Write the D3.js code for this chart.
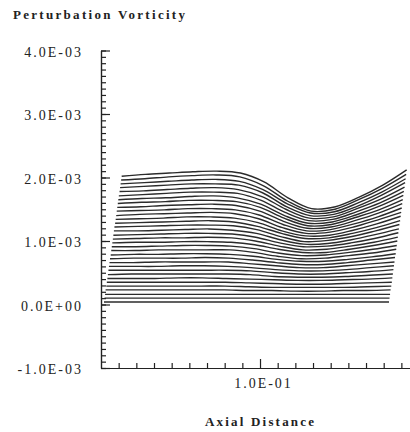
<!DOCTYPE html>
<html>
<head>
<meta charset="utf-8">
<script src="https://cdn.jsdelivr.net/npm/d3@7"></script>
<style>
  body { margin: 0; background: #fff; }
  text { font-family: "Liberation Serif", "DejaVu Serif", serif; fill: #222; }
</style>
</head>
<body>
<script>
// Axial positions of the samples along the first (lowest) curve
const axial = [0.0117, 0.0251, 0.0386, 0.0520, 0.0655, 0.0789, 0.0923,
               0.1058, 0.1192, 0.1327, 0.1461, 0.1595, 0.1730];

// Shift along the axial direction of each successive curve (waterfall stacking)
const stackOffset = [0, 0.0003, 0.0006, 0.0009, 0.0013, 0.0016, 0.0019, 0.0022,
  0.0025, 0.0028, 0.0031, 0.0034, 0.0038, 0.0041, 0.0044, 0.0047, 0.0050,
  0.0053, 0.0056, 0.0059, 0.0063, 0.0066, 0.0069, 0.0072, 0.0075, 0.0078,
  0.0081, 0.0084, 0.0088, 0.0091, 0.0094, 0.0097, 0.0100];

// Perturbation vorticity of each curve, in units of 1E-03 (bottom curve first)
const vorticity = [
  [0.04,0.04,0.04,0.04,0.04,0.04,0.04,0.04,0.04,0.04,0.04,0.04,0.04],
  [0.10,0.10,0.10,0.10,0.10,0.10,0.10,0.10,0.10,0.10,0.10,0.10,0.10],
  [0.16,0.16,0.16,0.16,0.16,0.16,0.16,0.16,0.16,0.16,0.16,0.16,0.16],
  [0.23,0.23,0.23,0.23,0.23,0.23,0.22,0.22,0.21,0.21,0.22,0.22,0.23],
  [0.29,0.29,0.29,0.29,0.29,0.29,0.28,0.27,0.27,0.27,0.27,0.28,0.29],
  [0.35,0.35,0.35,0.35,0.35,0.35,0.34,0.33,0.32,0.32,0.33,0.34,0.35],
  [0.41,0.41,0.41,0.42,0.42,0.41,0.40,0.39,0.38,0.38,0.39,0.40,0.42],
  [0.47,0.48,0.48,0.48,0.48,0.48,0.47,0.44,0.43,0.43,0.44,0.46,0.48],
  [0.54,0.54,0.54,0.54,0.54,0.54,0.53,0.50,0.48,0.48,0.50,0.52,0.55],
  [0.60,0.60,0.60,0.61,0.61,0.60,0.58,0.55,0.53,0.53,0.55,0.58,0.61],
  [0.66,0.66,0.67,0.67,0.67,0.67,0.64,0.61,0.58,0.58,0.61,0.64,0.67],
  [0.72,0.73,0.73,0.73,0.74,0.73,0.70,0.66,0.63,0.63,0.66,0.70,0.74],
  [0.78,0.79,0.79,0.80,0.80,0.79,0.76,0.71,0.68,0.68,0.71,0.75,0.80],
  [0.85,0.85,0.86,0.86,0.86,0.86,0.82,0.76,0.72,0.73,0.77,0.81,0.87],
  [0.91,0.91,0.92,0.93,0.93,0.92,0.88,0.81,0.77,0.78,0.82,0.87,0.93],
  [0.97,0.98,0.98,0.99,0.99,0.98,0.94,0.87,0.82,0.82,0.87,0.93,1.00],
  [1.03,1.04,1.05,1.05,1.06,1.05,1.00,0.92,0.86,0.87,0.92,0.98,1.06],
  [1.09,1.10,1.11,1.12,1.12,1.11,1.06,0.97,0.91,0.92,0.97,1.04,1.13],
  [1.16,1.16,1.17,1.18,1.19,1.17,1.12,1.02,0.95,0.96,1.02,1.10,1.19],
  [1.22,1.23,1.24,1.25,1.25,1.24,1.18,1.07,0.99,1.01,1.07,1.16,1.26],
  [1.28,1.29,1.30,1.31,1.32,1.30,1.23,1.12,1.04,1.05,1.12,1.21,1.32],
  [1.34,1.35,1.36,1.38,1.38,1.36,1.29,1.16,1.08,1.09,1.17,1.27,1.39],
  [1.40,1.42,1.43,1.44,1.45,1.43,1.35,1.21,1.12,1.14,1.22,1.33,1.45],
  [1.47,1.48,1.49,1.51,1.51,1.49,1.41,1.26,1.16,1.18,1.27,1.38,1.52],
  [1.53,1.54,1.56,1.57,1.58,1.56,1.47,1.31,1.20,1.22,1.32,1.44,1.59],
  [1.59,1.61,1.62,1.64,1.64,1.62,1.53,1.36,1.24,1.26,1.37,1.49,1.65],
  [1.65,1.67,1.68,1.70,1.71,1.68,1.58,1.40,1.28,1.30,1.41,1.55,1.72],
  [1.71,1.73,1.75,1.77,1.77,1.75,1.64,1.45,1.32,1.34,1.46,1.60,1.78],
  [1.78,1.79,1.81,1.83,1.84,1.81,1.70,1.50,1.36,1.38,1.51,1.66,1.85],
  [1.84,1.86,1.88,1.90,1.90,1.88,1.76,1.54,1.40,1.42,1.55,1.72,1.92],
  [1.90,1.92,1.94,1.96,1.97,1.94,1.81,1.59,1.44,1.46,1.60,1.77,1.98],
  [1.96,1.98,2.01,2.03,2.04,2.01,1.87,1.63,1.47,1.50,1.65,1.83,2.05],
  [2.02,2.05,2.07,2.09,2.10,2.07,1.93,1.68,1.51,1.54,1.69,1.88,2.12]
];
const UNIT = 1e-3;

// Tick values
const yMajor = [-1e-3, 0, 1e-3, 2e-3, 3e-3, 4e-3];
const xMajor = [0.1];

const width = 410, height = 432;

const svg = d3.select("body").append("svg")
  .attr("width", width)
  .attr("height", height);

const x = d3.scaleLinear().domain([0.01, 0.185]).range([101, 410.2]);
const y = d3.scaleLinear().domain([-1e-3, 4e-3]).range([368, 50.5]);

// format like 4.0E-03
function sci(d) {
  if (d === 0) return "0.0E+00";
  const e = Math.floor(Math.log10(Math.abs(d)) + 1e-9);
  const m = d / Math.pow(10, e);
  return m.toFixed(1) + "E" + (e < 0 ? "-" : "+") + String(Math.abs(e)).padStart(2, "0");
}

// curves
const line = d3.line()
  .x(d => x(d[0]))
  .y(d => y(d[1]))
  .curve(d3.curveCatmullRom.alpha(0.5));

const curves = svg.append("g");
vorticity.forEach((row, i) => {
  const pts = row.map((v, k) => [axial[k] + stackOffset[i], v * UNIT]);
  curves.append("path")
    .datum(pts)
    .attr("fill", "none")
    .attr("stroke", "#2b2b2b")
    .attr("stroke-width", 1.4)
    .attr("d", line);
});

// Y axis: minor + major ticks pointing inward
const yMinor = d3.range(-10, 41).map(k => k * 1e-4);
svg.append("g")
  .attr("class", "axis")
  .attr("transform", "translate(101,0)")
  .call(d3.axisLeft(y).tickValues(yMinor).tickSize(-5).tickSizeOuter(0).tickFormat(""));

svg.append("g")
  .attr("class", "axis labels-y")
  .attr("transform", "translate(101,0)")
  .call(d3.axisLeft(y).tickValues(yMajor).tickSize(-9).tickSizeOuter(0).tickPadding(18).tickFormat(sci));

// X axis
const xMinor = d3.range(2, 19).map(k => k * 0.01).filter(v => Math.abs(v - 0.1) > 1e-6);
svg.append("g")
  .attr("class", "axis")
  .attr("transform", "translate(0,368)")
  .call(d3.axisBottom(x).tickValues(xMinor).tickSize(-5).tickSizeOuter(0).tickFormat(""));

svg.append("g")
  .attr("class", "axis labels-x")
  .attr("transform", "translate(0,368)")
  .call(d3.axisBottom(x).tickValues(xMajor).tickSize(-9).tickSizeOuter(0).tickPadding(10).tickFormat(sci));

svg.selectAll(".axis path, .axis line")
  .attr("stroke", "#222")
  .attr("stroke-width", 1.2);

svg.selectAll(".axis text")
  .attr("fill", "#222")
  .style("font-family", "'Liberation Serif', serif")
  .style("font-size", "14px")
  .style("letter-spacing", "2px");

svg.selectAll(".labels-y text").attr("dy", "0.4em");
svg.selectAll(".labels-x text").attr("dx", "3px");

// Titles
svg.append("text")
  .attr("x", 13)
  .attr("y", 19)
  .attr("textLength", 172)
  .attr("lengthAdjust", "spacing")
  .style("font-size", "13px")
  .style("font-weight", "bold")
  .text("Perturbation Vorticity");

svg.append("text")
  .attr("x", 205)
  .attr("y", 426)
  .attr("textLength", 109)
  .attr("lengthAdjust", "spacing")
  .style("font-size", "13px")
  .style("font-weight", "bold")
  .text("Axial Distance");
</script>
</body>
</html>
